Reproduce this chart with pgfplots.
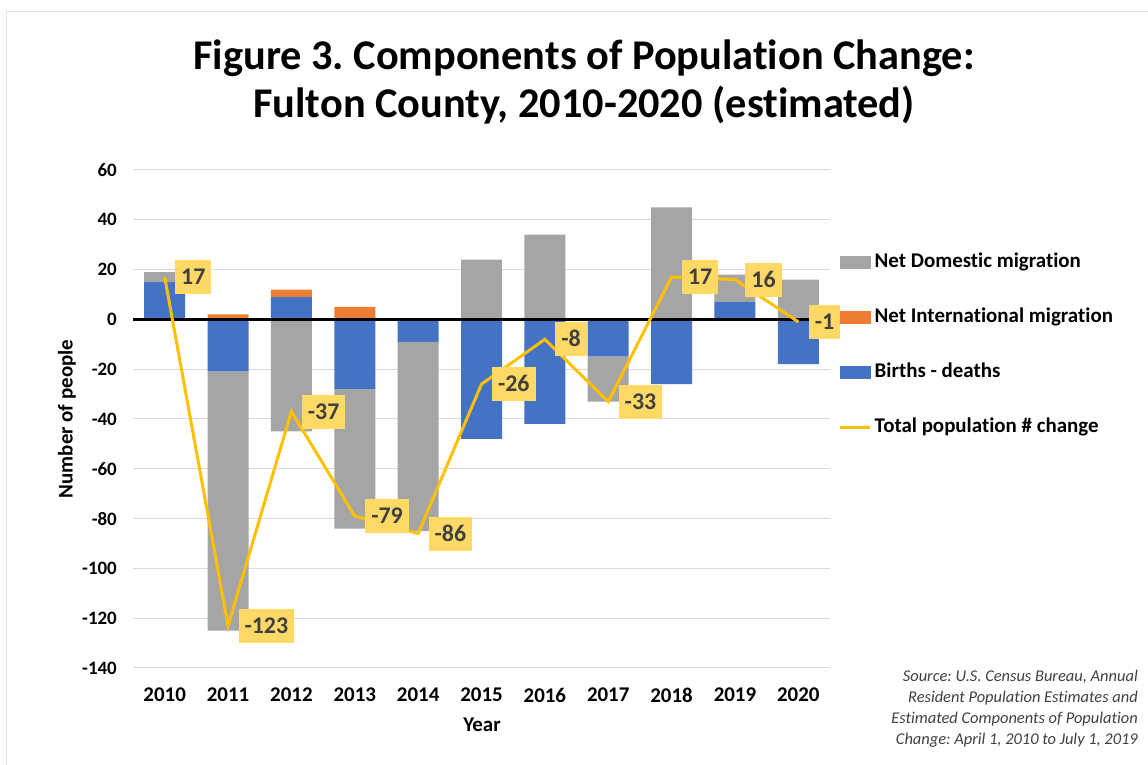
\documentclass[border=0pt]{standalone}
\usepackage{fontspec}
\setmainfont[Ligatures=NoCommon]{Carlito}
\usepackage{pgfplots}
\usepackage{pgfplotstable}
\pgfplotsset{compat=1.18}
\definecolor{domgray}{HTML}{A5A5A5}
\definecolor{intorange}{HTML}{ED7D31}
\definecolor{bdblue}{HTML}{4472C4}
\definecolor{totgold}{HTML}{FFC000}
\definecolor{lblfill}{HTML}{FFD966}
\definecolor{lbltext}{HTML}{404040}
\definecolor{gridc}{HTML}{D9D9D9}
\definecolor{framec}{HTML}{E4E4E4}
\frenchspacing

% positive and negative parts of each component (Excel stacks them apart)
\pgfplotstableread{
x bdpos intpos dompos bdneg domneg total
0  15 0 4   0    0    17
1  0  2 0   -21  -104 -123
2  9  3 0   0    -45  -37
3  0  5 0   -28  -56  -79
4  0  0 0   -9   -76  -86
5  0  0 24  -48  0    -26
6  0  0 34  -42  0    -8
7  0  0 0   -15  -18  -33
8  0  0 45  -26  0    17
9  7  0 11  0    0    16
10 0  0 16  -18  0    -1
}\data

\pgfplotsset{
  base/.style={
    scale only axis, width=697bp, height=498bp,
    xmin=-0.5, xmax=10.5, ymin=-140, ymax=60,
    at={(133bp,97bp)}, anchor=south west,
    axis line style={draw=none},
    major tick length=0pt,
  },
  barst/.style={ybar stacked, bar width=41bp, draw=none},
}

\begin{document}
\begin{tikzpicture}
\path[use as bounding box] (0,0) rectangle (1148bp,765bp);
\draw[framec, line width=1.5bp] (6.5bp,0bp) -- (6.5bp,753.5bp) -- (1148bp,753.5bp);

% Axis A: grid, ticks, positive parts
\begin{axis}[base,
  ytick={-140,-120,-100,-80,-60,-40,-20,0,20,40,60},
  yticklabels={-140,-120,-100,-80,-60,-40,-20,0,20,40,60},
  xtick={0,...,10},
  xticklabels={2010,2011,2012,2013,2014,2015,2016,2017,2018,2019,2020},
  ymajorgrids, grid style={gridc, line width=1bp},
  yticklabel style={font=\fontsize{19}{19}\selectfont\bfseries, anchor=east, inner sep=0pt, xshift=-16bp},
  xticklabel style={font=\fontsize{21}{21}\selectfont\bfseries, anchor=center, inner sep=0pt, yshift=-27bp},
]
\addplot[barst, fill=bdblue] table[x=x, y=bdpos] {\data};
\addplot[barst, fill=intorange] table[x=x, y=intpos] {\data};
\addplot[barst, fill=domgray] table[x=x, y=dompos] {\data};
\end{axis}

% Axis B: negative parts, zero line, total line, legend
\begin{axis}[base,
  xtick=\empty, ytick=\empty,
  legend style={at={(axis description cs:1,0.649)}, anchor=west, xshift=9bp,
    draw=none, fill=none, inner sep=0pt, row sep=37bp, column sep=3bp,
    font=\fontsize{21}{21}\selectfont\bfseries,
    nodes={inner sep=0pt, text height=14bp, text depth=4bp}},
  legend cell align=left,
]
\addplot[barst, fill=bdblue, forget plot] table[x=x, y=bdneg] {\data};
\addplot[barst, fill=domgray, forget plot] table[x=x, y=domneg] {\data};
\draw[black, line width=3bp] (rel axis cs:0,0.7) -- (rel axis cs:1,0.7);
\addlegendimage{legend image code/.code={\fill[domgray] (0bp,-6bp) rectangle (30bp,6bp);}}
\addlegendentry{Net Domestic migration}
\addlegendimage{legend image code/.code={\fill[intorange] (0bp,-6bp) rectangle (30bp,6bp);}}
\addlegendentry{Net International migration}
\addlegendimage{legend image code/.code={\fill[bdblue] (0bp,-6bp) rectangle (30bp,6bp);}}
\addlegendentry{Births - deaths}
\addplot[totgold, line width=3bp, mark=none,
  legend image code/.code={\draw[totgold, line width=2.5bp] (0bp,0bp) -- (30bp,0bp);},
  nodes near coords, point meta=explicit symbolic,
  nodes near coords align=center,
  every node near coord/.append style={anchor=west, xshift=9bp, fill=lblfill, text=lbltext,
    font=\fontsize{24}{24}\selectfont\bfseries, inner xsep=6bp, inner ysep=9.5bp,
    text height=15bp, text depth=0bp},
] table[x=x, y=total, meta=total] {\data};
\addlegendentry{Total population \# change}
\end{axis}

% titles
\node[anchor=base, font=\fontsize{42.5}{42.5}\selectfont\bfseries] at (584bp,695bp) {Figure 3. Components of Population Change:};
\node[anchor=base, font=\fontsize{42.5}{42.5}\selectfont\bfseries] at (584bp,647bp) {Fulton County, 2010-2020 (estimated)};
\node[rotate=90, font=\fontsize{21}{21}\selectfont\bfseries] at (67bp,346bp) {Number of people};
\node[font=\fontsize{21}{21}\selectfont\bfseries] at (482bp,40bp) {Year};
\node[anchor=north east, align=right, inner sep=0pt, text=lbltext, font=\fontsize{16.5}{21}\selectfont\itshape] at (1138bp,95bp)
  {Source: U.S. Census Bureau, Annual\\Resident Population Estimates and\\Estimated Components of Population\\Change: April 1, 2010 to July 1, 2019};
\end{tikzpicture}
\end{document}
